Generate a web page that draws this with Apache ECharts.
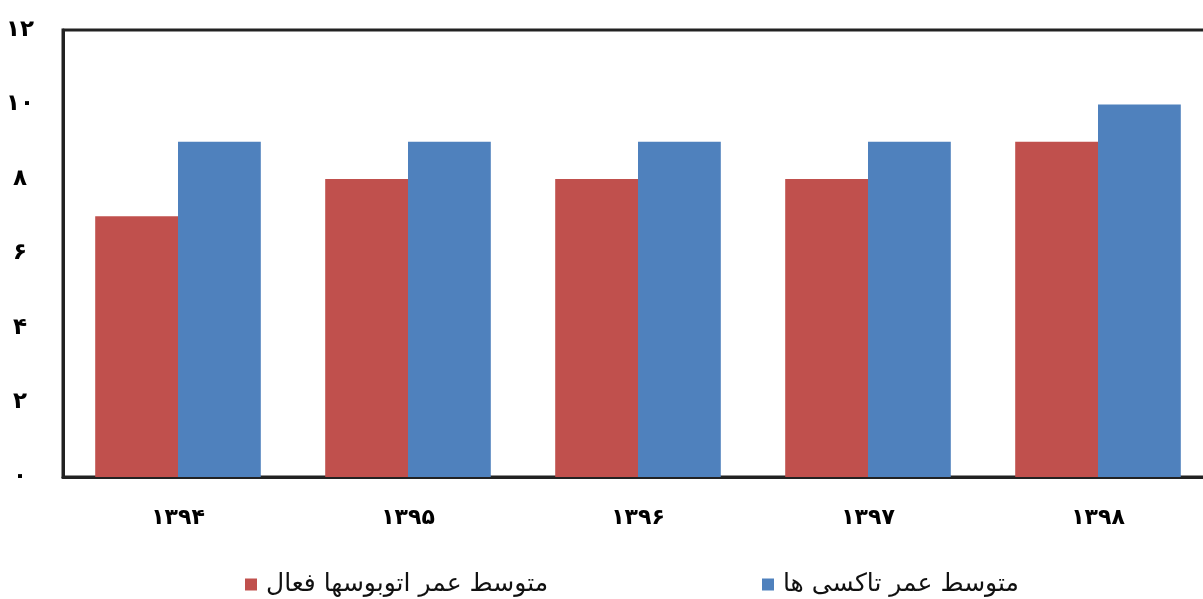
<!DOCTYPE html>
<html>
<head>
<meta charset="utf-8">
<script src="https://cdn.jsdelivr.net/npm/echarts@6/dist/echarts.min.js"></script>
<style>
  html, body { margin: 0; padding: 0; background: #fff; }
  #main { width: 1203px; height: 599px; }
</style>
</head>
<body>
<div id="main"></div>
<script>
// سال ها و مقادیر
var years = ['۱۳۹۴', '۱۳۹۵', '۱۳۹۶', '۱۳۹۷', '۱۳۹۸'];
var busAge = [7, 8, 8, 8, 9];      // متوسط عمر اتوبوسها فعال
var taxiAge = [9, 9, 9, 9, 10];    // متوسط عمر تاکسی ها
var yTicks = ['۰', '۲', '۴', '۶', '۸', '۱۰', '۱۲'];

var busName = 'متوسط عمر اتوبوسها فعال';
var taxiName = 'متوسط عمر تاکسی ها';
var fontFa = '"DejaVu Sans", sans-serif';

var option = {
    animation: false,
    backgroundColor: '#fff',
    grid: {
        left: 63,
        width: 1150,   // plot runs past the right edge of the window
        top: 30,
        height: 447,
        outerBoundsMode: 'none',
        show: true,
        borderColor: '#222',
        borderWidth: 3
    },
    legend: [
        {
            left: 240,
            top: 567,
            itemWidth: 12,
            itemHeight: 12,
            icon: 'rect',
            data: [busName],
            textStyle: { fontFamily: fontFa, fontSize: 25, color: '#111', padding: [0, 0, 0, 4] }
        },
        {
            left: 757,
            top: 567,
            itemWidth: 12,
            itemHeight: 12,
            icon: 'rect',
            data: [taxiName],
            textStyle: { fontFamily: fontFa, fontSize: 25, color: '#111', padding: [0, 0, 0, 4] }
        }
    ],
    xAxis: {
        type: 'category',
        data: years,
        axisTick: { show: false },
        axisLine: { show: true, lineStyle: { color: '#222', width: 3 } },
        axisLabel: {
            margin: 30,
            color: '#000',
            fontFamily: fontFa,
            fontWeight: 'bold',
            fontSize: 22
        }
    },
    yAxis: {
        type: 'value',
        min: 0,
        max: 12,
        interval: 2,
        axisTick: { show: false },
        axisLine: { show: true, lineStyle: { color: '#222', width: 3 } },
        splitLine: { show: false },
        axisLabel: {
            margin: 43,
            align: 'center',
            color: '#000',
            fontFamily: fontFa,
            fontWeight: 'bold',
            fontSize: 23,
            formatter: function (v) { return yTicks[v / 2]; }
        }
    },
    series: [
        {
            name: busName,
            type: 'bar',
            barGap: '0%',
            barCategoryGap: '28%',
            itemStyle: { color: '#C0504D' },
            data: busAge
        },
        {
            name: taxiName,
            type: 'bar',
            itemStyle: { color: '#4F81BD' },
            data: taxiAge
        }
    ]
};

var chart = echarts.init(document.getElementById('main'));
chart.setOption(option);
</script>
</body>
</html>
